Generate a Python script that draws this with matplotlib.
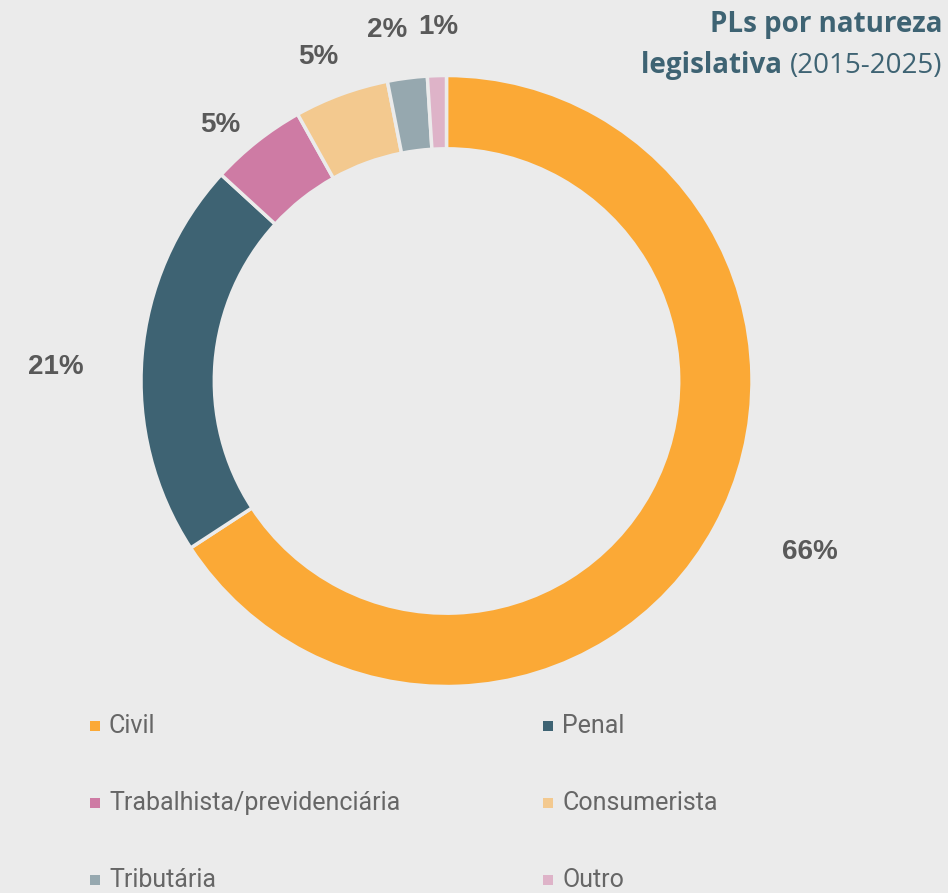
import numpy as np
import matplotlib.pyplot as plt
from matplotlib.patches import Rectangle

categorias = ['Civil', 'Penal', 'Trabalhista/previdenciária', 'Consumerista', 'Tributária', 'Outro']
valores = [65.8, 21.0, 5.1, 5.0, 2.1, 1.0]
rotulos = ['66%', '21%', '5%', '5%', '2%', '1%']
cores = ['#FBA936', '#3E6373', '#CE7BA4', '#F3C98F', '#96A8AF', '#DEB3C8']

fundo = '#EBEBEB'
cinza = '#595959'

fig = plt.figure(figsize=(9.48, 8.93), dpi=100, facecolor=fundo)

# donut centred at (446, 381) px, radius ~305 px
W, H = 948, 893
cx, cy, r = 446.5, 381, 305.5
ax = fig.add_axes([(cx - r) / W, (H - cy - r) / H, 2 * r / W, 2 * r / H])
ax.set_facecolor(fundo)

wedges, _ = ax.pie(valores, colors=cores, startangle=90, counterclock=False,
                   radius=1, wedgeprops=dict(width=0.24, edgecolor=fundo, linewidth=2.5))
ax.set_xlim(-1, 1)
ax.set_ylim(-1, 1)
ax.axis('off')

# data labels outside the ring (distance and small angle shift per label)
dist = [1.316, 1.28, 1.12, 1.14, 1.165, 1.16]
desvio = [3.2, 2.7, 3.1, 1.5, 2.3, -0.4]
for w, txt, d, dv in zip(wedges, rotulos, dist, desvio):
    ang = np.deg2rad((w.theta1 + w.theta2) / 2 + dv)
    ax.text(d * np.cos(ang), d * np.sin(ang), txt, ha='center', va='center',
            fontsize=20, fontweight='bold', color=cinza, family='Liberation Sans',
            clip_on=False)

# title, right aligned, mixed weights on second line
cor_titulo = '#3E6373'
fig.text(942 / W, (H - 32) / H, 'PLs por natureza', ha='right', va='baseline',
         fontsize=20, fontweight='bold', color=cor_titulo, family='Open Sans')
t2 = fig.text(942 / W, (H - 73) / H, '(2015-2025)', ha='right', va='baseline',
              fontsize=20, color=cor_titulo, family='Open Sans')
fig.canvas.draw()
bb = t2.get_window_extent()
fig.text(bb.x0 / W, (H - 73) / H, 'legislativa ', ha='right', va='baseline',
         fontsize=20, fontweight='bold', color=cor_titulo, family='Open Sans')

# legend, two columns, row-wise
col_x = [95, 548]
row_y = [726, 803, 880]
for i, (nome, cor) in enumerate(zip(categorias, cores)):
    x = col_x[i % 2]
    y = row_y[i // 2]
    fig.add_artist(Rectangle(((x - 5) / W, (H - y - 5) / H), 10 / W, 10 / H,
                             transform=fig.transFigure, facecolor=cor, edgecolor='none'))
    fig.text((x + 14) / W, (H - y) / H, nome, ha='left', va='center',
             fontsize=18, color='#666666', family='Roboto')

fig.savefig('out.png', dpi=100, facecolor=fundo)
